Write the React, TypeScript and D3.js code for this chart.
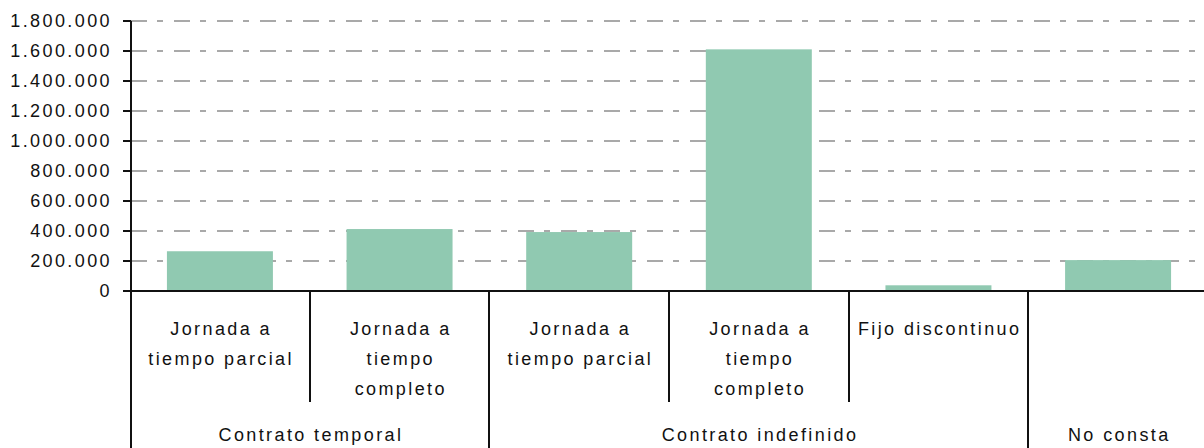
import { useEffect, useRef } from 'react';
import * as d3 from 'd3';

// leaf categories (line breaks as in the picture), the group each one sits in, and the counts
const categories = [
  'Jornada a\ntiempo parcial',
  'Jornada a\ntiempo\ncompleto',
  'Jornada a\ntiempo parcial',
  'Jornada a\ntiempo\ncompleto',
  'Fijo discontinuo',
  '',
];
const categoryGroups = [
  'Contrato temporal',
  'Contrato temporal',
  'Contrato indefinido',
  'Contrato indefinido',
  'Contrato indefinido',
  'No consta',
];
const groups = ['Contrato temporal', 'Contrato indefinido', 'No consta'];
const values = [265000, 413000, 393000, 1611000, 38000, 206000];
const yTicks = [0, 200000, 400000, 600000, 800000, 1000000, 1200000, 1400000, 1600000, 1800000];

const W = 1204;
const H = 448;
const FONT = '"Liberation Sans", Arial, sans-serif';
const LS = 2.4;

const buildChart = (el: SVGSVGElement) => {
  const svg = d3.select(el);
  svg.selectAll('*').remove();

  const left = 131;
  const top = 21;
  const bottom = 291;

  const idx = categories.map((_, i) => i);
  const x = d3.scaleBand<number>()
    .domain(idx)
    .range([left, 1207])
    .paddingInner(0.41)
    .paddingOuter(0.2);
  const y = d3.scaleLinear().domain([0, 1800000]).range([bottom, top]);

  const loc = d3.formatLocale({ decimal: ',', thousands: '.', grouping: [3], currency: ['', '€'] });
  const fmt = loc.format(',');

  const half = (x.step() - x.bandwidth()) / 2;
  const edgeL = (i: number) => (x(i) as number) - half;
  const edgeR = (i: number) => (x(i) as number) + x.bandwidth() + half;

  // grid
  svg.append('g')
    .selectAll('line')
    .data(yTicks.filter((t) => t > 0))
    .enter()
    .append('line')
    .attr('x1', left)
    .attr('x2', W)
    .attr('y1', (d) => y(d))
    .attr('y2', (d) => y(d))
    .attr('stroke', '#a9a9a9')
    .attr('stroke-width', 2)
    .attr('stroke-dasharray', '16 10 6 11');

  // bars
  svg.append('g')
    .selectAll('rect')
    .data(values)
    .enter()
    .append('rect')
    .attr('x', (_, i) => x(i) as number)
    .attr('width', x.bandwidth())
    .attr('y', (d) => y(d))
    .attr('height', (d) => bottom - y(d))
    .attr('fill', '#90c9b1');

  // y axis
  const ax = svg.append('g').attr('stroke', '#111').attr('stroke-width', 2);
  ax.append('line').attr('x1', left).attr('x2', left).attr('y1', top).attr('y2', H);
  ax.append('line').attr('x1', left - 8).attr('x2', W).attr('y1', bottom).attr('y2', bottom);
  ax.selectAll('line.tick')
    .data(yTicks)
    .enter()
    .append('line')
    .attr('class', 'tick')
    .attr('x1', left - 8)
    .attr('x2', left)
    .attr('y1', (d) => y(d))
    .attr('y2', (d) => y(d));

  svg.append('g')
    .selectAll('text')
    .data(yTicks)
    .enter()
    .append('text')
    .attr('x', 112)
    .attr('y', (d) => y(d))
    .attr('dy', '0.36em')
    .attr('text-anchor', 'end')
    .attr('font-family', FONT)
    .attr('font-size', 18)
    .attr('letter-spacing', LS)
    .attr('fill', '#111')
    .text((d) => fmt(d));

  // separators under the axis
  const sep = svg.append('g').attr('stroke', '#111').attr('stroke-width', 2);
  idx.forEach((i) => {
    if (i === 0) return;
    const newGroup = categoryGroups[i] !== categoryGroups[i - 1];
    const xx = Math.round(edgeL(i));
    sep.append('line')
      .attr('x1', xx).attr('x2', xx)
      .attr('y1', bottom).attr('y2', newGroup ? H : 402);
  });

  // leaf labels
  const leaf = svg.append('g')
    .attr('font-family', FONT)
    .attr('font-size', 18)
    .attr('letter-spacing', LS)
    .attr('fill', '#111')
    .attr('text-anchor', 'middle');
  categories.forEach((c, i) => {
    const cx = (edgeL(i) + edgeR(i)) / 2 + LS / 2;
    c.split('\n').filter((s) => s).forEach((line, k) => {
      leaf.append('text').attr('x', cx).attr('y', 335 + k * 30).text(line);
    });
  });

  // group labels
  groups.forEach((g) => {
    const members = idx.filter((i) => categoryGroups[i] === g);
    const x0 = edgeL(members[0]);
    const x1 = edgeR(members[members.length - 1]);
    leaf.append('text').attr('x', (x0 + x1) / 2 + LS / 2).attr('y', 441).text(g);
  });
};

const App = () => {
  const ref = useRef<SVGSVGElement>(null);

  useEffect(() => {
    if (ref.current) buildChart(ref.current);
  }, []);

  return (
    <div style={{ position: 'absolute', left: 0, top: 0, width: W, height: H, background: '#fff' }}>
      <svg ref={ref} width={W} height={H} style={{ display: 'block' }} />
    </div>
  );
};

export default App;
